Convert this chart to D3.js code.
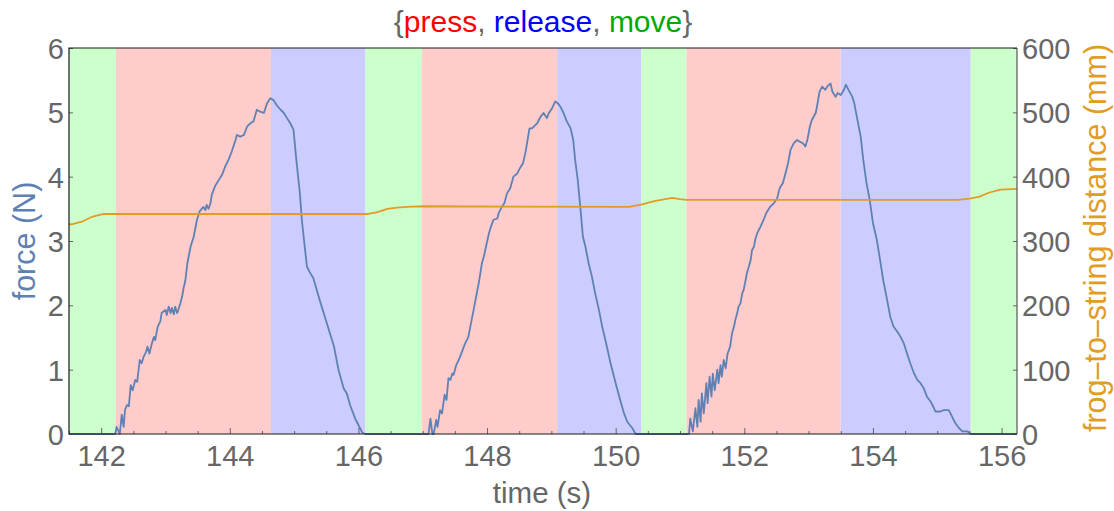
<!DOCTYPE html>
<html lang="en">
<head>
    <meta charset="UTF-8">
    <title>press / release / move</title>
    <style>
        body { margin: 0; background: #fff; }
        svg text { font-family: "Liberation Sans", Arial, sans-serif; }
    </style>
</head>
<body>
    <svg id="chart" width="1114" height="511"></svg>

    <script src="https://d3js.org/d3.v7.min.js"></script>
    <script>
        // phase bands: start/end times (s) and which phase
        const phaseEdges = [141.50, 142.23, 144.64, 146.11, 146.99, 149.09, 150.40, 151.10, 153.50, 155.52, 156.24];
        const phaseNames = ["move", "press", "release", "move", "press", "release", "move", "press", "release", "move"];

        // force (N), [time, force]
        const forceCycle1 = [
            [141.50, 0], [142.22, 0], [142.24, 0.11], [142.29, 0], [142.32, 0.30], [142.35, 0.11],
            [142.37, 0.37], [142.40, 0.45], [142.43, 0.43], [142.46, 0.76], [142.49, 0.68],
            [142.53, 0.84], [142.56, 0.81], [142.60, 1.15], [142.63, 1.10], [142.66, 1.20],
            [142.70, 1.28], [142.72, 1.36], [142.75, 1.25], [142.79, 1.41], [142.82, 1.51],
            [142.84, 1.46], [142.88, 1.67], [142.92, 1.75], [142.94, 1.88], [143.00, 1.93],
            [143.02, 1.85], [143.05, 1.98], [143.08, 1.88], [143.10, 1.96], [143.13, 1.86],
            [143.15, 1.98], [143.18, 1.88], [143.20, 1.93], [143.23, 2.03], [143.26, 2.14],
            [143.28, 2.26], [143.31, 2.39], [143.34, 2.65], [143.39, 2.91], [143.44, 3.07],
            [143.49, 3.33], [143.53, 3.46], [143.59, 3.53], [143.62, 3.48], [143.64, 3.56],
            [143.67, 3.50], [143.70, 3.59], [143.72, 3.72], [143.77, 3.85], [143.83, 3.95],
            [143.88, 4.03], [143.93, 4.16], [143.98, 4.26], [144.03, 4.39], [144.09, 4.57],
            [144.11, 4.65], [144.16, 4.62], [144.22, 4.65], [144.27, 4.78], [144.32, 4.83],
            [144.37, 4.86], [144.42, 5.04], [144.47, 5.01], [144.53, 4.99], [144.58, 5.14],
            [144.63, 5.22], [144.68, 5.19], [144.73, 5.11], [144.79, 5.04], [144.84, 4.99],
            [144.89, 4.91], [144.94, 4.83], [144.99, 4.73], [145.04, 4.21], [145.09, 3.74],
            [145.12, 3.33], [145.16, 2.96], [145.20, 2.60], [145.24, 2.52], [145.30, 2.42],
            [145.38, 2.14], [145.46, 1.88], [145.54, 1.62], [145.62, 1.36], [145.69, 1.00],
            [145.77, 0.71], [145.82, 0.63], [145.87, 0.45], [145.95, 0.24], [146.00, 0.14],
            [146.06, 0.02], [146.11, 0]
        ];
        const forceCycle2 = [
            [147.09, 0], [147.12, 0.24], [147.15, 0], [147.17, 0], [147.21, 0.22], [147.23, 0.11],
            [147.27, 0.37], [147.30, 0.32], [147.34, 0.61], [147.37, 0.53], [147.40, 0.87],
            [147.43, 0.84], [147.46, 0.94], [147.48, 0.92], [147.52, 1.07], [147.56, 1.15],
            [147.58, 1.20], [147.63, 1.33], [147.66, 1.41], [147.71, 1.51], [147.74, 1.67],
            [147.77, 1.82], [147.82, 2.08], [147.87, 2.34], [147.92, 2.65], [147.95, 2.76],
            [147.99, 2.94], [148.03, 3.12], [148.06, 3.22], [148.10, 3.33], [148.16, 3.35],
            [148.18, 3.43], [148.23, 3.53], [148.27, 3.59], [148.31, 3.74], [148.36, 3.82],
            [148.41, 4.00], [148.47, 4.05], [148.51, 4.13], [148.56, 4.21], [148.60, 4.39],
            [148.63, 4.57], [148.66, 4.75], [148.70, 4.75], [148.75, 4.80], [148.78, 4.83],
            [148.83, 4.93], [148.88, 4.99], [148.93, 4.91], [148.96, 4.99], [149.01, 5.06],
            [149.06, 5.17], [149.10, 5.14], [149.14, 5.09], [149.19, 4.99], [149.24, 4.86],
            [149.30, 4.75], [149.34, 4.57], [149.37, 4.26], [149.41, 3.95], [149.45, 3.53],
            [149.49, 3.07], [149.53, 2.91], [149.58, 2.65], [149.63, 2.45], [149.68, 2.19],
            [149.74, 1.93], [149.79, 1.67], [149.84, 1.46], [149.92, 1.10], [150.00, 0.79],
            [150.07, 0.53], [150.13, 0.32], [150.18, 0.19], [150.26, 0.09], [150.31, 0]
        ];
        const forceCycle3 = [
            [151.14, 0], [151.16, 0.24], [151.20, 0.04], [151.24, 0.40], [151.27, 0.11],
            [151.29, 0.53], [151.32, 0.19], [151.34, 0.63], [151.37, 0.32], [151.41, 0.79],
            [151.43, 0.48], [151.46, 0.89], [151.49, 0.58], [151.51, 0.94], [151.54, 0.68],
            [151.58, 1.00], [151.60, 0.79], [151.63, 1.07], [151.65, 0.89], [151.68, 1.15],
            [151.71, 1.02], [151.74, 1.25], [151.78, 1.36], [151.81, 1.57], [151.84, 1.67],
            [151.86, 1.77], [151.89, 1.88], [151.91, 1.98], [151.94, 2.03], [151.97, 2.19],
            [151.99, 2.24], [152.02, 2.39], [152.04, 2.50], [152.07, 2.60], [152.10, 2.71],
            [152.12, 2.86], [152.15, 2.91], [152.17, 3.02], [152.20, 3.12], [152.25, 3.22],
            [152.30, 3.33], [152.34, 3.43], [152.40, 3.53], [152.46, 3.59], [152.51, 3.66],
            [152.55, 3.82], [152.60, 3.90], [152.64, 4.05], [152.68, 4.21], [152.72, 4.42],
            [152.77, 4.52], [152.82, 4.57], [152.87, 4.54], [152.91, 4.52], [152.95, 4.47],
            [152.98, 4.57], [153.02, 4.78], [153.05, 4.88], [153.11, 4.99], [153.13, 5.09],
            [153.17, 5.32], [153.21, 5.40], [153.26, 5.35], [153.29, 5.40], [153.34, 5.45],
            [153.37, 5.32], [153.42, 5.24], [153.45, 5.30], [153.50, 5.27], [153.55, 5.35],
            [153.58, 5.43], [153.62, 5.35], [153.68, 5.24], [153.71, 5.14], [153.75, 4.93],
            [153.81, 4.62], [153.85, 4.26], [153.90, 3.90], [153.95, 3.64], [154.00, 3.28],
            [154.06, 3.02], [154.11, 2.71], [154.16, 2.39], [154.21, 2.14], [154.27, 1.82],
            [154.32, 1.67], [154.38, 1.59], [154.43, 1.51], [154.48, 1.41], [154.53, 1.25],
            [154.58, 1.10], [154.64, 0.94], [154.69, 0.84], [154.74, 0.79], [154.79, 0.71],
            [154.84, 0.58], [154.90, 0.50], [154.95, 0.40], [154.97, 0.35], [155.05, 0.35],
            [155.10, 0.37], [155.18, 0.37], [155.23, 0.27], [155.28, 0.17], [155.34, 0.09],
            [155.39, 0.04], [155.47, 0.04], [155.52, 0], [156.24, 0]
        ];

        // frog-to-string distance (mm), [time, mm]
        const distance = [
            [141.50, 326], [141.54, 326], [141.70, 330], [141.87, 338], [142.04, 342],
            [146.15, 342], [146.30, 345], [146.45, 350], [146.60, 352], [146.75, 353],
            [147.00, 354], [150.21, 353], [150.41, 357], [150.60, 362], [150.88, 367],
            [151.00, 365], [151.10, 364], [155.32, 364], [155.50, 366], [155.66, 369],
            [155.80, 375], [155.98, 380], [156.24, 381]
        ];

        const xTicks = [142, 144, 146, 148, 150, 152, 154, 156];
        const forceTicks = [0, 1, 2, 3, 4, 5, 6];
        const distTicks = [0, 100, 200, 300, 400, 500, 600];

        const phaseColor = { press: "#ffcccc", release: "#ccccff", move: "#ccffcc" };
        const titleParts = [
            { text: "{", color: "#666666" },
            { text: "press", color: "#ff0000" },
            { text: ", ", color: "#666666" },
            { text: "release", color: "#0000ff" },
            { text: ", ", color: "#666666" },
            { text: "move", color: "#00aa00" },
            { text: "}", color: "#666666" }
        ];

        const forceColor = "#5e81b5";
        const distColor = "#e19c24";
        const tickGray = "#666666";

        const svg = d3.select("#chart");
        const plot = { left: 69, right: 1017, top: 48, bottom: 434 };

        const x = d3.scaleLinear().domain([141.50, 156.24]).range([plot.left, plot.right]);
        const yF = d3.scaleLinear().domain([0, 6]).range([plot.bottom, plot.top]);
        const yD = d3.scaleLinear().domain([0, 600]).range([plot.bottom, plot.top]);

        // background phase bands
        svg.append("g").selectAll("rect")
            .data(phaseNames)
            .enter().append("rect")
            .attr("x", (d, i) => x(phaseEdges[i]))
            .attr("y", plot.top)
            .attr("width", (d, i) => x(phaseEdges[i + 1]) - x(phaseEdges[i]))
            .attr("height", plot.bottom - plot.top)
            .attr("fill", d => phaseColor[d]);

        // traces
        const forceData = forceCycle1.concat(forceCycle2, forceCycle3);
        const forceLine = d3.line().x(d => x(d[0])).y(d => yF(d[1]));
        const distLine = d3.line().x(d => x(d[0])).y(d => yD(d[1]));

        svg.append("clipPath").attr("id", "plot-clip")
            .append("rect").attr("x", plot.left).attr("y", plot.top)
            .attr("width", plot.right - plot.left).attr("height", plot.bottom - plot.top + 2);

        svg.append("path")
            .datum(forceData)
            .attr("clip-path", "url(#plot-clip)")
            .attr("d", forceLine)
            .attr("fill", "none")
            .attr("stroke", forceColor)
            .attr("stroke-width", 1.8)
            .attr("stroke-linejoin", "round");

        svg.append("path")
            .datum(distance)
            .attr("clip-path", "url(#plot-clip)")
            .attr("d", distLine)
            .attr("fill", "none")
            .attr("stroke", distColor)
            .attr("stroke-width", 1.8)
            .attr("stroke-linejoin", "round");

        // axes (ticks point inward, like the original frame)
        const xMinor = d3.range(141.5, 156.01, 0.5).filter(t => t % 2 !== 0);

        const xAxis = svg.append("g").attr("transform", `translate(0,${plot.bottom})`)
            .call(d3.axisTop(x).tickValues(xTicks).tickSize(6).tickFormat(d3.format("d")));
        svg.append("g").attr("transform", `translate(0,${plot.bottom})`)
            .call(d3.axisTop(x).tickValues(xMinor).tickSize(3).tickFormat(""))
            .call(g => g.select(".domain").remove());

        const yLeft = svg.append("g").attr("transform", `translate(${plot.left},0)`)
            .call(d3.axisRight(yF).tickValues(forceTicks).tickSize(4).tickFormat(d3.format("d")));
        const yRight = svg.append("g").attr("transform", `translate(${plot.right},0)`)
            .call(d3.axisLeft(yD).tickValues(distTicks).tickSize(4).tickFormat(d3.format("d")));

        svg.selectAll(".tick line").attr("stroke", tickGray);
        [xAxis, yLeft, yRight].forEach(g => {
            g.selectAll("text").attr("fill", tickGray).style("font-size", "29px");
            g.select(".domain").remove();
        });

        // move labels outside the frame
        xAxis.selectAll("text").attr("y", 11).attr("dy", "0.71em");
        yLeft.selectAll("text").attr("x", -5).attr("dy", "0.36em").attr("text-anchor", "end");
        yRight.selectAll("text").attr("x", 5).attr("dy", "0.36em").attr("text-anchor", "start");

        // frame
        svg.append("path")
            .attr("d", `M${plot.right},${plot.top}H${plot.left}V${plot.bottom}H${plot.right}`)
            .attr("fill", "none").attr("stroke", "#1a1a1a").attr("stroke-width", 1.2);
        svg.append("line")
            .attr("x1", plot.right).attr("x2", plot.right).attr("y1", plot.top).attr("y2", plot.bottom)
            .attr("stroke", "#555").attr("stroke-width", 1.2);

        // axis titles
        svg.append("text")
            .attr("transform", `translate(542,503)`)
            .attr("text-anchor", "middle")
            .attr("fill", tickGray)
            .style("font-size", "29.5px")
            .text("time (s)");

        svg.append("text")
            .attr("transform", `translate(35,${(plot.top + plot.bottom) / 2}) rotate(-90)`)
            .attr("text-anchor", "middle")
            .attr("fill", forceColor)
            .style("font-size", "30.5px")
            .text("force (N)");

        svg.append("text")
            .attr("transform", `translate(1106,238) rotate(-90)`)
            .attr("text-anchor", "middle")
            .attr("fill", distColor)
            .style("font-size", "30.5px")
            .text("frog\u2013to\u2013string distance (mm)");

        // title
        const title = svg.append("text")
            .attr("x", 543).attr("y", 32)
            .attr("text-anchor", "middle")
            .style("font-size", "30px");
        title.selectAll("tspan")
            .data(titleParts)
            .enter().append("tspan")
            .attr("fill", d => d.color)
            .text(d => d.text);
    </script>
</body>
</html>
